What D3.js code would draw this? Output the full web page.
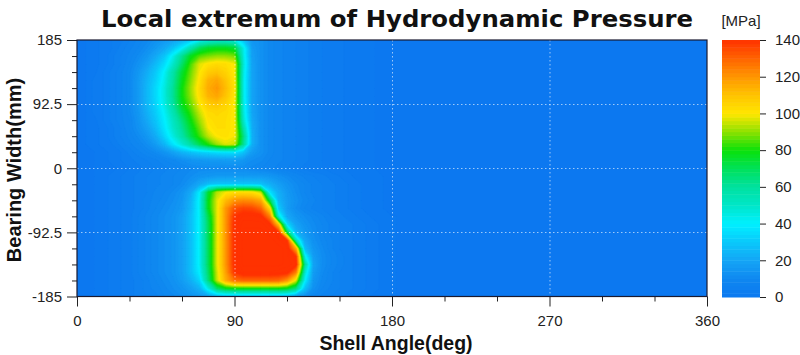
<!DOCTYPE html>
<html><head><meta charset="utf-8">
<script src="https://cdn.jsdelivr.net/npm/d3@7"></script>
<style>body{margin:0;background:#fff;}svg{display:block;}</style>
</head><body>
<svg id="chart" width="800" height="355"></svg>
<script>
// ---- data ----
const angles = [0,5,10,15,20,25,30,35,40,45,50,55,60,65,70,75,80,85,90,95,100,105,110,115,120,125,130,135,140,145,150,155,160,165,170,175,180];
const widths = [185,173.4375,161.875,150.3125,138.75,127.1875,115.625,104.0625,92.5,80.9375,69.375,57.8125,46.25,34.6875,23.125,11.5625,0,
  -11.5625,-23.125,-34.6875,-46.25,-57.8125,-69.375,-80.9375,-92.5,-104.0625,-115.625,-127.1875,-138.75,-150.3125,-161.875,-173.4375,-185];
// pressure [MPa], one row per width (top to bottom), one column per angle
const pressure = [
 [0,1,2,3,4,5,7,9,11,14,17,20,24,30,40,45,48,48,45,30,16,14,11,9,8,7,6,5,4,3,3,2,2,1,1,0,0],
 [0,1,2,3,4,6,8,10,13,17,22,30,40,56,70,76,78,78,75,45,18,14,11,9,8,7,6,5,4,3,3,2,2,1,1,0,0],
 [0,1,2,3,5,7,9,12,16,22,30,44,62,78,86,89,91,91,89,46,19,14,11,9,8,7,6,5,4,3,3,2,2,1,1,0,0],
 [0,1,2,3,5,7,10,14,19,27,36,50,68,85,98,102,104,103,100,48,20,14,11,9,8,7,6,5,4,3,3,2,2,1,1,0,0],
 [0,1,2,4,6,8,11,16,23,31,42,58,75,88,100,108,110,106,100,46,20,14,11,9,8,7,6,5,4,3,3,2,2,1,1,0,0],
 [0,1,3,4,6,8,11,17,25,33,44,60,78,90,102,114,117,110,101,45,20,14,11,9,8,7,6,5,4,3,3,2,2,1,1,0,0],
 [0,1,3,4,6,8,11,17,26,35,46,62,80,92,104,116,120,112,102,45,20,14,11,9,8,7,6,5,4,3,3,2,2,1,1,0,0],
 [0,1,3,4,6,8,11,17,26,35,46,62,80,91,103,114,117,110,101,45,20,14,11,9,8,7,6,5,4,3,3,2,2,1,1,0,0],
 [0,1,3,4,6,8,11,17,26,34,45,60,78,88,100,108,110,106,100,46,20,14,11,9,8,7,6,5,4,3,3,2,2,1,1,0,0],
 [0,1,3,4,6,8,11,16,24,32,42,56,72,84,96,104,105,104,100,47,21,14,11,9,8,7,6,5,4,3,3,2,2,1,1,0,0],
 [0,1,2,4,6,8,10,15,22,30,40,52,66,80,92,102,104,103,100,50,22,14,11,9,8,7,6,5,4,3,3,2,2,1,1,0,0],
 [0,1,2,3,5,7,10,14,19,27,38,50,62,76,88,100,103,103,100,58,23,14,11,9,8,7,6,5,4,3,3,2,2,1,1,0,0],
 [0,1,2,3,5,7,9,12,16,23,34,46,58,72,84,95,101,102,100,65,24,14,11,9,8,7,6,5,4,3,3,2,2,1,1,0,0],
 [0,1,2,3,4,6,8,10,13,18,26,38,48,60,72,82,92,98,96,62,24,14,11,9,8,7,6,5,4,3,3,2,2,1,1,0,0],
 [0,0,1,2,3,4,6,8,10,12,15,20,25,29,32,34,36,37,37,30,18,14,11,9,8,7,6,5,4,3,3,2,2,1,1,0,0],
 [0,0,1,2,3,4,5,6,7,8,10,11,13,15,16,17,17,18,18,16,13,12,10,9,8,7,6,5,4,3,3,2,2,1,1,0,0],
 [0,0,1,1,2,3,4,5,6,7,8,9,10,11,12,12,12,12,12,12,11,10,9,8,7,6,5,4,4,3,3,2,2,1,1,0,0],
 [0,0,1,2,3,4,5,6,7,8,9,10,11,13,15,16,17,17,17,17,17,17,16,14,12,10,8,7,6,5,4,3,2,2,1,1,0],
 [0,0,1,2,3,4,5,6,7,8,9,10,12,16,22,28,30,30,30,30,30,29,24,19,15,12,10,8,7,6,5,4,3,2,1,1,0],
 [0,0,1,2,3,4,5,6,7,9,10,12,15,22,40,75,94,100,103,103,102,95,38,24,17,13,10,8,7,6,5,4,3,2,1,1,0],
 [0,0,1,2,3,4,5,6,8,9,11,13,16,25,42,78,98,112,120,122,121,116,72,26,18,14,11,9,7,6,5,4,3,2,1,1,0],
 [0,0,1,2,3,4,5,6,8,10,12,14,17,26,42,78,98,120,134,137,136,130,105,32,18,13,10,8,7,6,5,4,3,2,1,1,0],
 [0,0,1,2,3,4,5,7,9,11,13,15,19,28,42,72,98,120,140,144,144,143,125,48,22,16,13,11,9,7,6,5,4,3,2,1,1],
 [0,0,1,2,3,4,5,7,9,11,13,15,19,28,42,70,98,120,142,146,146,146,143,110,36,20,15,12,10,8,7,6,5,4,3,2,1],
 [0,0,1,2,3,4,5,7,9,11,13,15,19,28,42,70,98,120,142,147,147,147,146,141,72,26,17,13,10,8,7,6,5,4,3,2,1],
 [0,0,1,2,3,4,5,7,9,11,13,15,19,28,42,70,98,120,142,147,147,147,147,146,140,55,22,14,11,9,7,6,5,4,3,2,1],
 [0,0,1,2,3,4,5,7,9,11,13,15,19,28,42,70,98,120,142,147,147,147,147,147,146,115,28,16,12,9,7,6,5,4,3,2,1],
 [0,0,1,2,3,4,5,7,9,11,13,15,19,28,42,70,98,120,142,147,147,147,147,147,146,140,45,18,13,10,8,6,5,4,3,2,1],
 [0,0,1,2,3,4,5,7,9,11,13,15,19,28,42,70,98,120,142,147,147,147,147,147,146,144,62,20,13,10,8,6,5,4,3,2,1],
 [0,0,1,2,3,4,5,7,9,11,13,15,19,28,40,68,96,118,140,145,145,145,145,144,143,125,50,18,12,9,7,6,5,4,3,2,1],
 [0,0,1,2,3,4,5,6,8,10,12,14,18,24,34,65,95,115,128,130,130,130,130,129,120,98,42,16,11,9,7,6,5,4,3,2,1],
 [0,0,1,2,3,4,5,6,8,9,11,13,15,19,25,45,68,76,78,78,78,78,78,78,76,65,30,14,10,8,7,6,5,4,3,2,1],
 [0,0,1,2,3,4,5,6,7,8,10,11,13,15,17,20,24,26,26,26,26,26,26,26,24,18,14,10,8,7,6,5,4,3,2,2,1]
];
const xTicks = [0,90,180,270,360];
const xMinorTicks = [30,60,120,150,210,240,300,330];
const yTicks = [185,92.5,0,-92.5,-185];
const yTickLabels = ["185","92.5","0","-92.5","-185"];
const yMinorTicks = [161.875,138.75,115.625,69.375,46.25,23.125,-23.125,-46.25,-69.375,-115.625,-138.75,-161.875];
const colourTicks = [0,20,40,60,80,100,120,140];
const colourStops = [0,10,20,30,40,50,60,70,80,90,100,110,120,130,140];
const colourList = ["#0c78f0","#0f88f0","#14a5f5","#0ac8fa","#00f0ff","#00e6c8","#00e1a0","#00e15a","#0ae10a","#8ce100","#ffe600","#ffc300","#ff9600","#ff6400","#ff3200"];
const titleText = "Local extremum of Hydrodynamic Pressure";
const xTitle = "Shell Angle(deg)";
const yTitle = "Bearing Width(mm)";
const unitText = "[MPa]";

// ---- layout ----
const svg = d3.select("#chart");
const L = 77, R = 707, T = 40, B = 296.5;
const x = d3.scaleLinear().domain([0,360]).range([L,R]);
const y = d3.scaleLinear().domain([-185,185]).range([B,T]);
const colour = d3.scaleLinear().domain(colourStops).range(colourList).clamp(true);
const font = "'Liberation Sans', Arial, sans-serif";

svg.append("defs").append("clipPath").attr("id","plotclip")
  .append("rect").attr("x",L).attr("y",T).attr("width",R-L).attr("height",B-T);

const plot = svg.append("g").attr("clip-path","url(#plotclip)");
plot.append("rect").attr("x",L).attr("y",T).attr("width",R-L).attr("height",B-T).attr("fill",colour(0));

const n = angles.length, m = widths.length;
const gx = d3.scaleLinear().domain([0,n-1]).range([angles[0],angles[n-1]]);
const gy = d3.scaleLinear().domain([0,m-1]).range([widths[0],widths[m-1]]);
const values = pressure.flat();
const levels = d3.range(1,150,1.5);
const contours = d3.contours().size([n,m]).thresholds(levels)(values);
const proj = d3.geoTransform({point(px,py){ this.stream.point(x(gx(px-0.5)), y(gy(py-0.5))); }});
const path = d3.geoPath(proj);
plot.selectAll("path.band").data(contours).join("path").attr("class","band")
  .attr("d",path).attr("fill",d=>colour(d.value)).attr("stroke",d=>colour(d.value)).attr("stroke-width",0.4);

// grid
const grid = svg.append("g").attr("stroke","rgba(255,255,255,0.6)").attr("stroke-width",1).attr("stroke-dasharray","1.5,2.5");
grid.selectAll("line.vx").data(xTicks.slice(1,-1)).join("line").attr("x1",d=>x(d)+0.5).attr("x2",d=>x(d)+0.5).attr("y1",T).attr("y2",B);
grid.selectAll("line.hy").data(yTicks.slice(1,-1)).join("line").attr("y1",d=>Math.round(y(d))+0.5).attr("y2",d=>Math.round(y(d))+0.5).attr("x1",L).attr("x2",R);

// axes
function styleAxis(g){ g.select(".domain").remove(); g.selectAll("line").attr("stroke","#222"); g.selectAll("text").attr("font-family",font).attr("font-size",15).attr("fill","#222"); }
svg.append("g").attr("transform",`translate(0,${B})`)
  .call(d3.axisBottom(x).tickValues(xMinorTicks).tickSize(5).tickFormat("")).call(styleAxis);
svg.append("g").attr("transform",`translate(0,${B})`)
  .call(d3.axisBottom(x).tickValues(xTicks).tickSize(10).tickPadding(9)).call(styleAxis);
svg.append("g").attr("transform",`translate(${L},0)`)
  .call(d3.axisLeft(y).tickValues(yMinorTicks).tickSize(5).tickFormat("")).call(styleAxis);
svg.append("g").attr("transform",`translate(${L},0)`)
  .call(d3.axisLeft(y).tickValues(yTicks).tickSize(10).tickPadding(5).tickFormat((d,i)=>yTickLabels[i])).call(styleAxis);

svg.append("rect").attr("x",L).attr("y",T).attr("width",R-L).attr("height",B-T)
  .attr("fill","none").attr("stroke","#1a1a30").attr("stroke-width",1.2);

// colour bar
const cbL = 722, cbR = 760;
const cy = d3.scaleLinear().domain([0,140]).range([297,40]);
const cbSteps = d3.range(0,140,2);
svg.append("g").selectAll("rect").data(cbSteps).join("rect")
  .attr("x",cbL).attr("width",cbR-cbL).attr("y",d=>cy(d+2)).attr("height",d=>cy(d)-cy(d+2)+0.5)
  .attr("fill",d=>colour(d+1));
svg.append("g").attr("transform",`translate(${cbR},0)`)
  .call(d3.axisRight(cy).tickValues(colourTicks).tickSize(6).tickPadding(9)).call(styleAxis);
svg.append("text").attr("x",741).attr("y",26).attr("text-anchor","middle")
  .attr("font-family",font).attr("font-size",15).attr("fill","#222").text(unitText);

// titles
svg.append("text").attr("x",397).attr("y",27).attr("text-anchor","middle")
  .attr("font-family","'DejaVu Sans', Verdana, sans-serif").attr("font-weight","bold").attr("font-size",23.5)
  .attr("textLength",592).attr("lengthAdjust","spacingAndGlyphs").attr("fill","#111").text(titleText);
svg.append("text").attr("x",396).attr("y",350).attr("text-anchor","middle")
  .attr("font-family",font).attr("font-weight","bold").attr("font-size",19.5).attr("fill","#111").text(xTitle);
svg.append("text").attr("transform","translate(21,170) rotate(-90)").attr("text-anchor","middle")
  .attr("font-family",font).attr("font-weight","bold").attr("font-size",20).attr("fill","#111").text(yTitle);
</script>
</body></html>
